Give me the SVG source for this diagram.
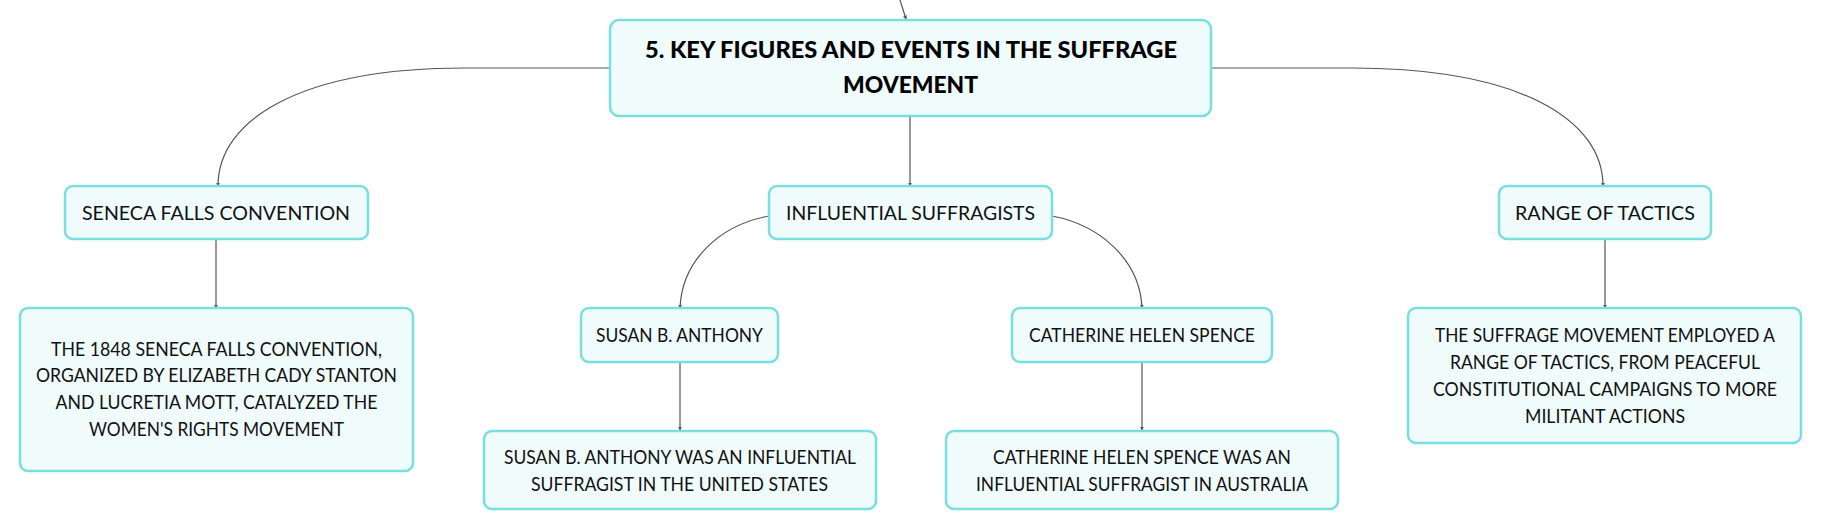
<svg xmlns="http://www.w3.org/2000/svg" width="1821" height="530" viewBox="0 0 1821 530">
<style>
.node{fill:#f0fbfc;stroke:#79dede;stroke-width:2.5}
.t{font-family:Lato,"Noto Sans","Liberation Sans",sans-serif;font-size:18.5px;fill:#111;text-anchor:middle}
.title{font-family:Lato,"Noto Sans","Liberation Sans",sans-serif;font-size:23.5px;font-weight:900;fill:#000;text-anchor:middle}
.c{fill:none;stroke:#555;stroke-width:1.2}
</style>
<defs>
<marker id="a" viewBox="0 0 6 6" refX="5" refY="3" markerWidth="4" markerHeight="4" orient="auto" markerUnits="userSpaceOnUse">
<path d="M0,0 L6,3 L0,6 Z" fill="#555"/>
</marker>
</defs>
<rect width="1821" height="530" fill="#fff"/>
<g id="connectors">
<path class="c" d="M900,0 L906,19" marker-end="url(#a)"/>
<path class="c" d="M610,68 L465,68 C300,68 218,120 218,186" marker-end="url(#a)"/>
<path class="c" d="M1212,68 L1352,68 C1520,68 1603,120 1603,186" marker-end="url(#a)"/>
<path class="c" d="M910,116 L910,186" marker-end="url(#a)"/>
<path class="c" d="M769,216 C720,225 682,260 680,308" marker-end="url(#a)"/>
<path class="c" d="M1052,216 C1100,225 1140,260 1142,308" marker-end="url(#a)"/>
<path class="c" d="M216,239 L216,308" marker-end="url(#a)"/>
<path class="c" d="M680,362 L680,430" marker-end="url(#a)"/>
<path class="c" d="M1142,362 L1142,430" marker-end="url(#a)"/>
<path class="c" d="M1605,239 L1605,308" marker-end="url(#a)"/>
</g>
<g id="main">
<rect class="node" x="610" y="20" width="601" height="96" rx="9"/>
<text class="title" x="911" y="58" textLength="532" lengthAdjust="spacingAndGlyphs">5. KEY FIGURES AND EVENTS IN THE SUFFRAGE</text>
<text class="title" x="910.5" y="93" textLength="135" lengthAdjust="spacingAndGlyphs">MOVEMENT</text>
</g>
<g id="seneca">
<rect class="node" x="65" y="186" width="303" height="53" rx="8"/>
<text class="t" x="216" y="220" textLength="268" lengthAdjust="spacingAndGlyphs">SENECA FALLS CONVENTION</text>
</g>
<g id="influential">
<rect class="node" x="769" y="186" width="283" height="53" rx="8"/>
<text class="t" x="910.5" y="220" textLength="249" lengthAdjust="spacingAndGlyphs">INFLUENTIAL SUFFRAGISTS</text>
</g>
<g id="range">
<rect class="node" x="1499" y="186" width="212" height="53" rx="8"/>
<text class="t" x="1605" y="220" textLength="180" lengthAdjust="spacingAndGlyphs">RANGE OF TACTICS</text>
</g>
<g id="seneca-desc">
<rect class="node" x="20" y="308" width="393" height="163" rx="8"/>
<text class="t" x="216.5" y="355.5" textLength="331" lengthAdjust="spacingAndGlyphs">THE 1848 SENECA FALLS CONVENTION,</text>
<text class="t" x="216.5" y="382" textLength="361" lengthAdjust="spacingAndGlyphs">ORGANIZED BY ELIZABETH CADY STANTON</text>
<text class="t" x="216.5" y="409" textLength="322" lengthAdjust="spacingAndGlyphs">AND LUCRETIA MOTT, CATALYZED THE</text>
<text class="t" x="216.5" y="435.5" textLength="255" lengthAdjust="spacingAndGlyphs">WOMEN'S RIGHTS MOVEMENT</text>
</g>
<g id="susan">
<rect class="node" x="581" y="308" width="197" height="54" rx="8"/>
<text class="t" x="679.5" y="342" textLength="167" lengthAdjust="spacingAndGlyphs">SUSAN B. ANTHONY</text>
</g>
<g id="susan-desc">
<rect class="node" x="484" y="431" width="392" height="78" rx="8"/>
<text class="t" x="680" y="463.5" textLength="352" lengthAdjust="spacingAndGlyphs">SUSAN B. ANTHONY WAS AN INFLUENTIAL</text>
<text class="t" x="679.5" y="490.5" textLength="297" lengthAdjust="spacingAndGlyphs">SUFFRAGIST IN THE UNITED STATES</text>
</g>
<g id="catherine">
<rect class="node" x="1012" y="308" width="260" height="54" rx="8"/>
<text class="t" x="1142" y="342" textLength="226" lengthAdjust="spacingAndGlyphs">CATHERINE HELEN SPENCE</text>
</g>
<g id="catherine-desc">
<rect class="node" x="946" y="431" width="392" height="78" rx="8"/>
<text class="t" x="1142" y="463.5" textLength="298" lengthAdjust="spacingAndGlyphs">CATHERINE HELEN SPENCE WAS AN</text>
<text class="t" x="1142" y="490.5" textLength="332" lengthAdjust="spacingAndGlyphs">INFLUENTIAL SUFFRAGIST IN AUSTRALIA</text>
</g>
<g id="range-desc">
<rect class="node" x="1408" y="308" width="393" height="135" rx="8"/>
<text class="t" x="1605" y="342" textLength="340" lengthAdjust="spacingAndGlyphs">THE SUFFRAGE MOVEMENT EMPLOYED A</text>
<text class="t" x="1605" y="368.5" textLength="310" lengthAdjust="spacingAndGlyphs">RANGE OF TACTICS, FROM PEACEFUL</text>
<text class="t" x="1605" y="395.5" textLength="344" lengthAdjust="spacingAndGlyphs">CONSTITUTIONAL CAMPAIGNS TO MORE</text>
<text class="t" x="1605" y="422.5" textLength="160" lengthAdjust="spacingAndGlyphs">MILITANT ACTIONS</text>
</g>
</svg>
